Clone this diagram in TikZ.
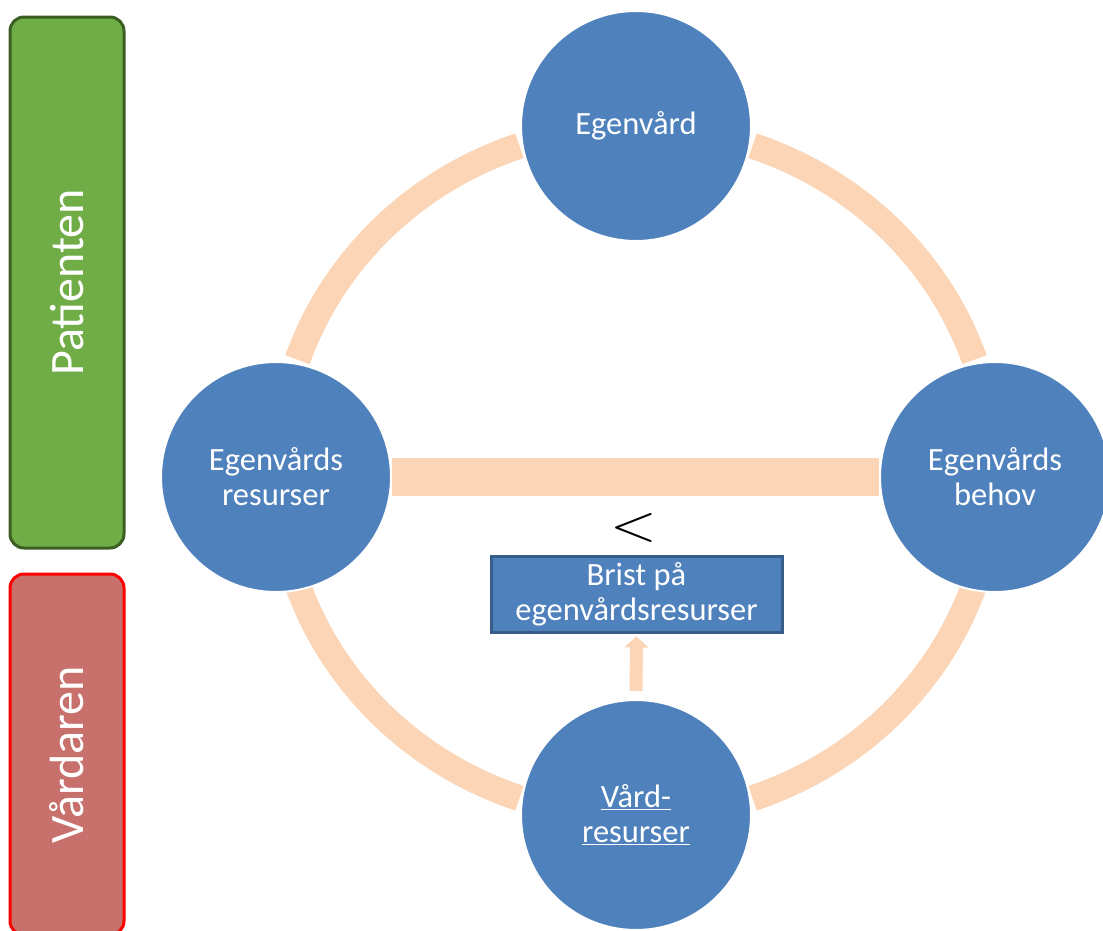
\documentclass[tikz,border=0pt]{standalone}
\usepackage{fontspec}
\setmainfont{Carlito}
\usetikzlibrary{calc,arrows.meta,backgrounds}
\definecolor{circblue}{HTML}{4F81BD}
\definecolor{boxedge}{HTML}{385D8A}
\definecolor{peach}{HTML}{FBD5B5}
\definecolor{pgreen}{HTML}{70AD47}
\definecolor{pgreenedge}{HTML}{3B5E23}
\definecolor{vred}{HTML}{C8706B}
\tikzset{
  circ/.style={circle, fill=circblue, draw=white, line width=2pt, minimum size=230pt,
    inner sep=0pt, text=white, align=center, font=\fontsize{32.5}{35}\selectfont},
  bar/.style={rectangle, rounded corners=14pt, line width=3pt, minimum width=531pt,
    minimum height=114pt, rotate=90, text=white, font=\fontsize{48}{56}\selectfont},
  ring/.style={draw=peach, line width=26pt},
  link/.style={draw=peach, line width=38pt},
  gapbox/.style={rectangle, fill=circblue, draw=boxedge, line width=3pt,
    minimum width=291pt, minimum height=76pt, inner sep=0pt, text=white, align=center,
    font=\fontsize{32.5}{35}\selectfont},
  uparrow/.style={draw=peach, line width=13pt, -{Triangle[width=24pt,length=11pt]},
    shorten <=8pt, shorten >=3pt},
}

\begin{document}
\begin{tikzpicture}[x=1pt,y=-1pt]
  \useasboundingbox (0,0) rectangle (1103,930);
  \coordinate (c) at (636,472);
  % ring between the circles
  \foreach \a in {0,90,180,270}
    \draw[ring] ($(c)+(\a+19:358 and 345)$)
      arc[start angle=\a+19, end angle=\a+71, x radius=358, y radius=345];
  % side bars
  \node[bar, fill=pgreen, draw=pgreenedge] (patient) at (67,282.5) {Patienten};
  \node[bar, fill=vred, draw=red, minimum width=361pt] (vardare) at (67,754.5) {Vårdaren};
  % circles
  \node[circ] (egenvard) at (636,126) {Egenvård};
  \node[circ] (resurser) at (276,477) {Egenvårds\\resurser};
  \node[circ] (behov) at (995,477) {Egenvårds\\behov};
  \node[circ] (vard) at (636,815) {\underline{Vård-}\\\underline{resurser}};
  \begin{scope}[on background layer]
    \draw[link] (resurser) -- (behov);
  \end{scope}
  % deficit
  \node[inner sep=0pt] (lt) at (634,528) {\scalebox{6}[5]{$<$}};
  \node[gapbox] (brist) at (636.5,594) {Brist på\\egenvårdsresurser};
  \draw[uparrow] (vard.north) -- (brist.south);
\end{tikzpicture}
\end{document}
